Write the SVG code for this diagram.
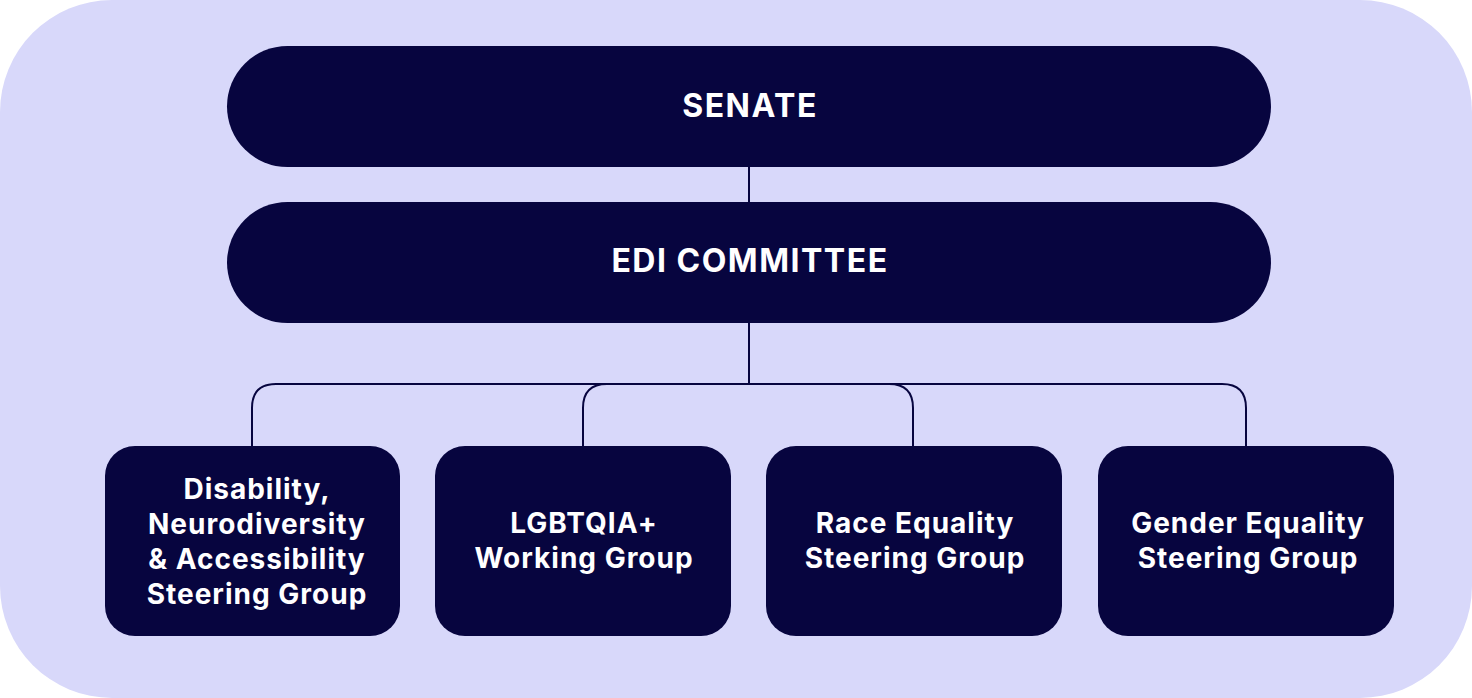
<svg xmlns="http://www.w3.org/2000/svg" width="1472" height="698" viewBox="0 0 1472 698">
<style>
.node{fill:#07053F}
.t{fill:#FFFFFF;font-family:Inter,"Noto Sans",sans-serif;font-weight:700;text-anchor:middle}
.big{font-size:32px;letter-spacing:1.5px}
.sm{font-size:28px;letter-spacing:1px}
.con{fill:none;stroke:#07053F;stroke-width:2}
</style>
<rect x="0" y="0" width="1472" height="698" rx="112" ry="112" fill="#D8D8FA"/>
<g id="connectors">
<line class="con" x1="749" y1="166" x2="749" y2="204" stroke-width="3"/>
<line class="con" x1="749" y1="322" x2="749" y2="384" stroke-width="3"/>
<path class="con" d="M252 447 V408 Q252 384 276 384 H1222 Q1246 384 1246 408 V447"/>
<path class="con" d="M583 447 V408 Q583 384 607 384"/>
<path class="con" d="M913 447 V408 Q913 384 889 384"/>
</g>
<g id="senate">
<rect class="node" x="227" y="46" width="1044" height="121" rx="60.5"/>
<text class="t big" x="750" y="117">SENATE</text>
</g>
<g id="edi">
<rect class="node" x="227" y="202" width="1044" height="121" rx="60.5"/>
<text class="t big" x="750" y="272">EDI COMMITTEE</text>
</g>
<g id="disability">
<rect class="node" x="105" y="446" width="295" height="190" rx="30"/>
<text class="t sm" x="257" y="499">Disability,</text>
<text class="t sm" x="257" y="534">Neurodiversity</text>
<text class="t sm" x="257" y="569">&amp; Accessibility</text>
<text class="t sm" x="257" y="604">Steering Group</text>
</g>
<g id="lgbtqia">
<rect class="node" x="435" y="446" width="296" height="190" rx="30"/>
<text class="t sm" x="584" y="533">LGBTQIA+</text>
<text class="t sm" x="584" y="568">Working Group</text>
</g>
<g id="race">
<rect class="node" x="766" y="446" width="296" height="190" rx="30"/>
<text class="t sm" x="915" y="533">Race Equality</text>
<text class="t sm" x="915" y="568">Steering Group</text>
</g>
<g id="gender">
<rect class="node" x="1098" y="446" width="296" height="190" rx="30"/>
<text class="t sm" x="1248" y="533">Gender Equality</text>
<text class="t sm" x="1248" y="568">Steering Group</text>
</g>
</svg>
